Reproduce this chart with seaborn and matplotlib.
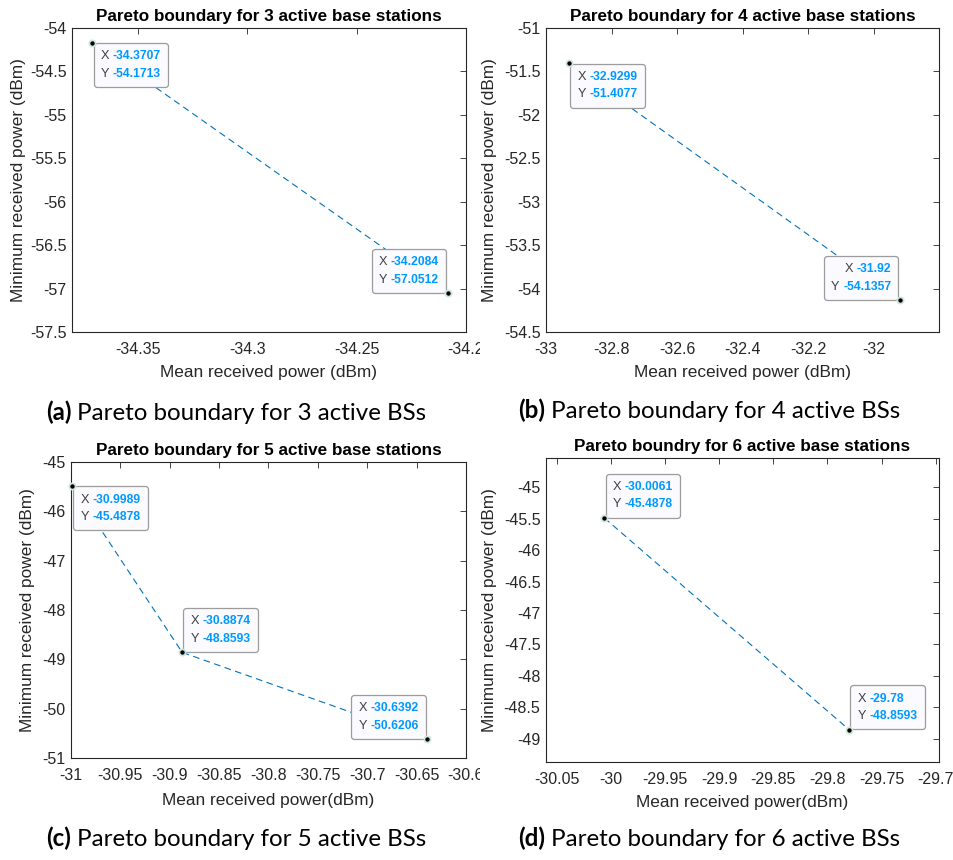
import matplotlib
matplotlib.use("Agg")
import matplotlib.pyplot as plt
import numpy as np
import pandas as pd
import seaborn as sns
from matplotlib.offsetbox import TextArea, HPacker, VPacker, AnnotationBbox
from matplotlib.transforms import Bbox, TransformedBbox

# Pareto points: mean received power (dBm) vs minimum received power (dBm)
mean_3 = [-34.3707, -34.2084]
min_3 = [-54.1713, -57.0512]
mean_4 = [-32.9299, -31.92]
min_4 = [-51.4077, -54.1357]
mean_5 = [-30.9989, -30.8874, -30.6392]
min_5 = [-45.4878, -48.8593, -50.6206]
mean_6 = [-30.0061, -29.78]
min_6 = [-45.4878, -48.8593]

titles = [
    "Pareto boundary for 3 active base stations",
    "Pareto boundary for 4 active base stations",
    "Pareto boundary for 5 active base stations",
    "Pareto boundry for 6 active base stations",
]
caption_tags = ["(a)", "(b)", "(c)", "(d)"]
captions = [
    "Pareto boundary for 3 active BSs",
    "Pareto boundary for 4 active BSs",
    "Pareto boundary for 5 active BSs",
    "Pareto boundary for 6 active BSs",
]
xlabels = [
    "Mean received power (dBm)",
    "Mean received power (dBm)",
    "Mean received power(dBm)",
    "Mean received power(dBm)",
]
ylabel = "Minimum received power (dBm)"

xticks_3 = [-34.35, -34.3, -34.25, -34.2]
yticks_3 = [-54, -54.5, -55, -55.5, -56, -56.5, -57, -57.5]
xticks_4 = [-33, -32.8, -32.6, -32.4, -32.2, -32]
yticks_4 = [-51, -51.5, -52, -52.5, -53, -53.5, -54, -54.5]
xticks_5 = [-31, -30.95, -30.9, -30.85, -30.8, -30.75, -30.7, -30.65, -30.6]
yticks_5 = [-45, -46, -47, -48, -49, -50, -51]
xticks_6 = [-30.05, -30, -29.95, -29.9, -29.85, -29.8, -29.75, -29.7]
yticks_6 = [-45, -45.5, -46, -46.5, -47, -47.5, -48, -48.5, -49]

W, H = 954, 860
sns.set_theme(style="white")
plt.rcParams["font.family"] = ["Liberation Sans", "DejaVu Sans"]

LINE_BLUE = "#0072BD"
TIP_BLUE = "#0099FF"
INK = "#262626"

# panel geometry in pixels: left, top, right, bottom, axis limits
panels = [
    dict(x=mean_3, y=min_3, xt=xticks_3, yt=yticks_3, box=(72, 28, 466, 332),
         xlim=(-34.38, -34.2), ylim=(-57.5, -54), clip=True,
         tips=["lr", "ul"], ylab_x=-0.137, xlab_y=-0.134, cap=(236, 412)),
    dict(x=mean_4, y=min_4, xt=xticks_4, yt=yticks_4, box=(546, 28, 939, 332),
         xlim=(-33.0, -31.8), ylim=(-54.5, -51), clip=False,
         tips=["lr", "ul"], ylab_x=-0.1425, xlab_y=-0.134, cap=(709, 410)),
    dict(x=mean_5, y=min_5, xt=xticks_5, yt=yticks_5, box=(71, 462, 466, 758),
         xlim=(-31.0, -30.6), ylim=(-51, -45), clip=True,
         tips=["lr", "ur", "ul"], ylab_x=-0.109, xlab_y=-0.142, cap=(236, 838)),
    dict(x=mean_6, y=min_6, xt=xticks_6, yt=yticks_6, box=(546, 458, 939, 762),
         xlim=(-30.06, -29.697), ylim=(-49.373, -44.533), clip=False,
         tips=["ur", "ur"], ylab_x=-0.1425, xlab_y=-0.134, cap=(709, 838)),
]

fig = plt.figure(figsize=(W / 100, H / 100), dpi=100)
left_half = TransformedBbox(Bbox([[0, 0], [480 / W, 1]]), fig.transFigure)


def fmt(v):
    return f"{round(v, 4):g}"


def datatip(ax, xv, yv, corner):
    tip_fs = 8.7
    rows = []
    for name, val in (("X", xv), ("Y", yv)):
        rows.append(HPacker(children=[
            TextArea(name, textprops=dict(color="#404040", fontsize=tip_fs + 0.5)),
            TextArea(f"{val:.6g}", textprops=dict(color=TIP_BLUE, fontsize=tip_fs,
                                                  fontweight="bold")),
        ], align="baseline", pad=0, sep=2.5))
    align = "right" if corner[1] == "l" else "left"
    pack = VPacker(children=rows, align=align, pad=0, sep=4)
    off = 8.5
    if corner == "lr":
        ba, xyb = (0, 1), (off, -off + 1)
    elif corner == "ul":
        ba, xyb = (1, 0), (-off, off - 1)
    else:
        ba, xyb = (0, 0), (off, off - 1)
    ab = AnnotationBbox(pack, (xv, yv), xybox=xyb, xycoords="data",
                        boxcoords="offset pixels", box_alignment=ba,
                        frameon=True, fontsize=tip_fs, pad=0.55,
                        bboxprops=dict(boxstyle="round,pad=0.6,rounding_size=0.25",
                                       facecolor="#FAFAFF", edgecolor="#9C9C9C",
                                       linewidth=0.9))
    ab.set_zorder(5)
    ax.add_artist(ab)


for i, p in enumerate(panels):
    l, t, r, b = p["box"]
    ax = fig.add_axes([l / W, 1 - b / H, (r - l) / W, (b - t) / H])
    df = pd.DataFrame({"mean": p["x"], "minimum": p["y"]})
    sns.lineplot(data=df, x="mean", y="minimum", ax=ax, color=LINE_BLUE,
                 linewidth=0.8, linestyle=(0, (6, 4)), sort=False,
                 estimator=None, zorder=2)
    sns.scatterplot(data=df, x="mean", y="minimum", ax=ax, color="black",
                    s=20, edgecolor="#CFE6DE", linewidth=1.3, zorder=6,
                    clip_on=False)
    for k, corner in enumerate(p["tips"]):
        datatip(ax, p["x"][k], p["y"][k], corner)

    ax.set_xlim(*p["xlim"])
    ax.set_ylim(*p["ylim"])
    ax.set_xticks(p["xt"], [fmt(v) for v in p["xt"]])
    ax.set_yticks(p["yt"], [fmt(v) for v in p["yt"]])
    ax.tick_params(direction="in", length=4, width=0.6, top=True, right=True,
                   colors=INK, labelsize=11.5)
    ax.tick_params(axis="x", pad=7)
    ax.tick_params(axis="y", pad=4)
    for s in ax.spines.values():
        s.set_color(INK)
        s.set_linewidth(0.8)
    ax.set_facecolor("white")
    ax.set_title(titles[i], fontsize=12.3, fontweight="bold", color="black", pad=5)
    ax.set_xlabel(xlabels[i], fontsize=12.4, color=INK)
    ax.set_ylabel(ylabel, fontsize=12.4, color=INK)
    ax.xaxis.label.set_va("center")
    ax.yaxis.label.set_va("center")
    ax.xaxis.set_label_coords(0.5, p["xlab_y"])
    ax.yaxis.set_label_coords(p["ylab_x"], 0.5)
    if p["clip"]:
        for lab in ax.get_xticklabels():
            lab.set_clip_on(True)
            lab.set_clip_box(left_half)

    # subfigure caption below the panel
    cap = HPacker(children=[
        TextArea(caption_tags[i], textprops=dict(fontsize=17.4, fontweight="bold",
                                                 family="Lato", color="black")),
        TextArea(captions[i], textprops=dict(fontsize=17.4, family="Lato",
                                             color="black")),
    ], align="baseline", pad=0, sep=4)
    cx, cy = p["cap"]
    fig.add_artist(AnnotationBbox(cap, (cx, H - cy), xycoords="figure pixels",
                                  box_alignment=(0.5, 0.5), frameon=False))

fig.savefig("out.png", dpi=100, facecolor="white")
